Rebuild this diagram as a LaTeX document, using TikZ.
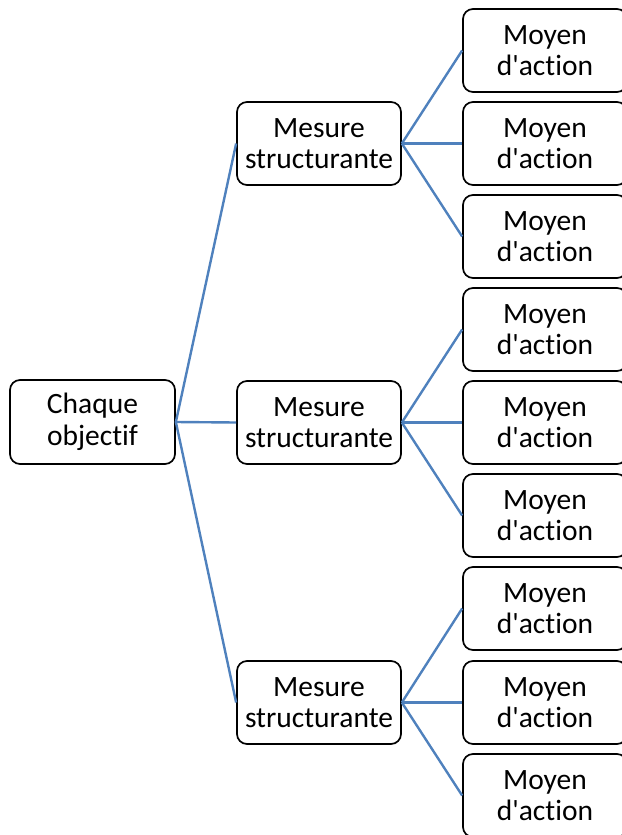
\documentclass[tikz,border=0pt]{standalone}
\usepackage{fontspec}
\newfontfamily\carlito{Carlito}[RawFeature={-liga;-clig;-calt;-dlig}]
\begin{document}
\begin{tikzpicture}[x=1pt,y=-1pt,
  box/.style={draw=black,line width=1.7pt,rounded corners=10pt,minimum width=164pt,minimum height=83pt,align=center,inner sep=0pt,font=\carlito\fontsize{29.5}{31.5}\selectfont},
  link/.style={draw=linkblue,line width=2.4pt}]
\definecolor{linkblue}{HTML}{4F81BD}
\useasboundingbox (0,0) rectangle (621,835);
\node[box,minimum width=165pt,minimum height=84pt] (root) at (92.5,422) {Chaque\\objectif};
\node[box] (m1) at (319,143.5) {Mesure\\structurante};
\node[box] (m2) at (319,422.5) {Mesure\\structurante};
\node[box] (m3) at (319,702.5) {Mesure\\structurante};
\foreach \i/\y in {1/50.5,2/143.5,3/236.5,4/329.5,5/422.5,6/515.5,7/608.5,8/702.5,9/795.5}{
  \node[box] (l\i) at (545,\y) {Moyen\\d'action};
}
\foreach \m in {1,2,3}{\draw[link] (root.east) -- (m\m.west);}
\draw[link] (m1.east) -- (l1.west);
\draw[link] (m1.east) -- (l2.west);
\draw[link] (m1.east) -- (l3.west);
\draw[link] (m2.east) -- (l4.west);
\draw[link] (m2.east) -- (l5.west);
\draw[link] (m2.east) -- (l6.west);
\draw[link] (m3.east) -- (l7.west);
\draw[link] (m3.east) -- (l8.west);
\draw[link] (m3.east) -- (l9.west);
\end{tikzpicture}
\end{document}
